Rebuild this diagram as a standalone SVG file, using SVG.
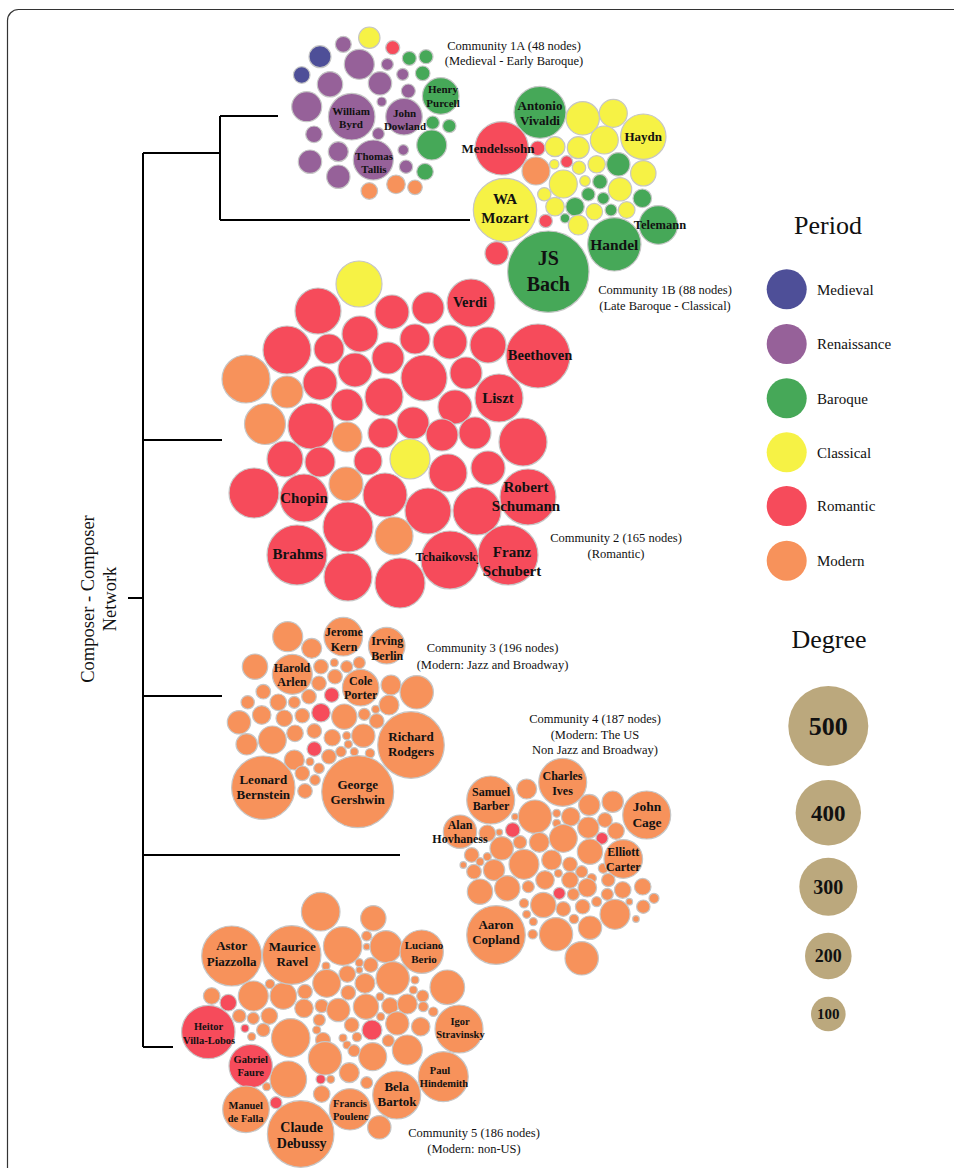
<svg xmlns="http://www.w3.org/2000/svg" width="954" height="1168" viewBox="0 0 954 1168">
<style>
circle{stroke:#c6c6c6;stroke-width:1.2}
.R{fill:#f64b5b}.O{fill:#f7925b}.Y{fill:#f6f245}.G{fill:#46a858}.P{fill:#966199}.B{fill:#4e4f98}
.L circle{stroke:none}
.T{fill:#bba87d;stroke:none}
text{font-family:"Liberation Serif","Times New Roman",serif;fill:#111;text-anchor:middle}
.lb{font-weight:bold}
.cap{font-size:12.5px}
.lg{font-size:15px;text-anchor:start}
.ttl{font-size:26px}
.edge{stroke:#000;stroke-width:2;fill:none}
</style>
<rect x="7.5" y="9.5" width="980" height="1200" rx="11" fill="#fff" stroke="#333" stroke-width="1.2"/>

<g id="connectors">
<path class="edge" d="M128 598H143M143 153V1047M143 153H220M220 116V220M220 116H278M220 220H470M143 440H222M143 696H222M143 855H400M143 1047H173"/>
</g>
<g id="root-label" style="font-size:18.5px">
<text transform="translate(94,599) rotate(-90)">Composer - Composer</text>
<text transform="translate(116,599) rotate(-90)">Network</text>
</g>

<!-- Community 1A -->
<g id="community-1a">
<circle class="Y" cx="369.3" cy="37.7" r="10.7"/>
<circle class="R" cx="392.7" cy="47.7" r="7"/>
<circle class="P" cx="343.3" cy="44.3" r="8"/>
<circle class="B" cx="320" cy="56.7" r="11"/>
<circle class="B" cx="301.7" cy="75" r="8.3"/>
<circle class="P" cx="359.3" cy="64.3" r="15"/>
<circle class="P" cx="387.3" cy="64.3" r="6"/>
<circle class="G" cx="409.3" cy="58.3" r="7"/>
<circle class="G" cx="426" cy="56.7" r="7"/>
<circle class="P" cx="330" cy="84.3" r="12.7"/>
<circle class="P" cx="380" cy="83.3" r="11.7"/>
<circle class="P" cx="402.7" cy="74.3" r="6"/>
<circle class="G" cx="422.7" cy="73.3" r="7.3"/>
<circle class="P" cx="408.3" cy="91" r="7"/>
<circle class="P" cx="306.7" cy="106.7" r="15"/>
<circle class="P" cx="381.7" cy="101.7" r="4.7"/>
<circle class="P" cx="314" cy="134.3" r="8.3"/>
<circle class="P" cx="378.3" cy="133.7" r="6"/>
<circle class="G" cx="432.7" cy="122.7" r="6.7"/>
<circle class="G" cx="449.3" cy="126" r="6.7"/>
<circle class="G" cx="431.7" cy="145" r="15"/>
<circle class="P" cx="338.3" cy="151.7" r="10"/>
<circle class="P" cx="403.3" cy="150" r="5.3"/>
<circle class="P" cx="310" cy="161.7" r="11.7"/>
<circle class="P" cx="406" cy="166.7" r="6.7"/>
<circle class="G" cx="425" cy="171.7" r="8.3"/>
<circle class="P" cx="338.3" cy="176.7" r="11.7"/>
<circle class="O" cx="396" cy="184.3" r="9.3"/>
<circle class="O" cx="369.3" cy="191" r="8.3"/>
<circle class="O" cx="415" cy="187.3" r="7.3"/>
<g id="n-byrd"><circle class="P" cx="351.7" cy="116.7" r="23.3"/><text class="lb" style="font-size:11px"><tspan x="351" y="114.6">William</tspan><tspan x="351" y="127.6">Byrd</tspan></text></g>
<g id="n-dowland"><circle class="P" cx="404" cy="116.7" r="18.3"/><text class="lb" style="font-size:11px"><tspan x="404.5" y="117">John</tspan><tspan x="405" y="129.6">Dowland</tspan></text></g>
<g id="n-purcell"><circle class="G" cx="440.7" cy="96" r="18.3"/><text class="lb" style="font-size:11px"><tspan x="443" y="93">Henry</tspan><tspan x="443" y="107">Purcell</tspan></text></g>
<g id="n-tallis"><circle class="P" cx="373.3" cy="160" r="20"/><text class="lb" style="font-size:11px"><tspan x="374" y="159.6">Thomas</tspan><tspan x="374" y="172.6">Tallis</tspan></text></g>
<text class="cap"><tspan x="514" y="49.5">Community 1A (48 nodes)</tspan><tspan x="514" y="65">(Medieval - Early Baroque)</tspan></text>
</g>

<!-- Community 1B -->
<g id="community-1b">
<circle class="Y" cx="582.7" cy="118.3" r="16.7"/>
<circle class="Y" cx="613.3" cy="113.3" r="14"/>
<circle class="R" cx="537.7" cy="148.3" r="7.3"/>
<circle class="Y" cx="555" cy="146.7" r="10"/>
<circle class="Y" cx="578.3" cy="147.7" r="11"/>
<circle class="Y" cx="604.3" cy="140" r="14"/>
<circle class="Y" cx="554.3" cy="164.3" r="4.7"/>
<circle class="R" cx="566.7" cy="161.7" r="6"/>
<circle class="Y" cx="579" cy="167.7" r="6.7"/>
<circle class="Y" cx="596.7" cy="164.3" r="8.7"/>
<circle class="G" cx="618.3" cy="164.3" r="11.7"/>
<circle class="Y" cx="643.3" cy="173.3" r="12.7"/>
<circle class="O" cx="536" cy="171" r="14"/>
<circle class="Y" cx="563.3" cy="184" r="14"/>
<circle class="Y" cx="585" cy="181" r="5.3"/>
<circle class="G" cx="600" cy="181.7" r="7.3"/>
<circle class="Y" cx="620" cy="189.3" r="11.7"/>
<circle class="Y" cx="544.3" cy="194.3" r="6.7"/>
<circle class="G" cx="588.3" cy="194.3" r="6.7"/>
<circle class="G" cx="603.3" cy="198.3" r="6"/>
<circle class="G" cx="642.3" cy="198.3" r="9.3"/>
<circle class="Y" cx="555" cy="206.7" r="9.3"/>
<circle class="G" cx="575" cy="206.7" r="9.3"/>
<circle class="Y" cx="594.3" cy="211.7" r="8.3"/>
<circle class="G" cx="611" cy="210" r="6"/>
<circle class="Y" cx="626.7" cy="210" r="8.3"/>
<circle class="R" cx="545.7" cy="221" r="6.7"/>
<circle class="G" cx="565" cy="218.3" r="4.7"/>
<circle class="Y" cx="578.3" cy="225" r="10"/>
<circle class="R" cx="496.7" cy="253.3" r="11.7"/>
<g id="n-vivaldi"><circle class="G" cx="540" cy="112.3" r="26"/><text class="lb" style="font-size:13px"><tspan x="540" y="110">Antonio</tspan><tspan x="540" y="124.5">Vivaldi</tspan></text></g>
<g id="n-haydn"><circle class="Y" cx="643.3" cy="136.7" r="22.7"/><text class="lb" style="font-size:13px" x="643.3" y="141">Haydn</text></g>
<g id="n-mendelssohn"><circle class="R" cx="501.7" cy="148.3" r="26.7"/><text class="lb" style="font-size:13px" x="498" y="152.5">Mendelssohn</text></g>
<g id="n-mozart"><circle class="Y" cx="505" cy="210" r="31.7"/><text class="lb" style="font-size:15px"><tspan x="505" y="204">WA</tspan><tspan x="505" y="222.7">Mozart</tspan></text></g>
<g id="n-telemann"><circle class="G" cx="658.3" cy="225" r="19.3"/><text class="lb" style="font-size:12.5px" x="660" y="228.5">Telemann</text></g>
<g id="n-handel"><circle class="G" cx="614.3" cy="244.3" r="26.7"/><text class="lb" style="font-size:15.5px" x="614.3" y="249.5">Handel</text></g>
<g id="n-bach"><circle class="G" cx="548.3" cy="271.7" r="40.7"/><text class="lb" style="font-size:20px"><tspan x="548.3" y="264.5">JS</tspan><tspan x="548.3" y="291">Bach</tspan></text></g>
<text class="cap"><tspan x="665" y="293.5">Community 1B (88 nodes)</tspan><tspan x="665" y="309.5">(Late Baroque - Classical)</tspan></text>
</g>

<!-- Community 2 -->
<g id="community-2">
<circle class="Y" cx="359" cy="284" r="23"/>
<circle class="R" cx="318" cy="311" r="23"/>
<circle class="R" cx="392" cy="312" r="17"/>
<circle class="R" cx="428" cy="308" r="16"/>
<circle class="R" cx="287" cy="350" r="24"/>
<circle class="R" cx="329" cy="349" r="15"/>
<circle class="R" cx="360" cy="334" r="18"/>
<circle class="R" cx="415" cy="339" r="15"/>
<circle class="R" cx="450" cy="342" r="17"/>
<circle class="R" cx="488" cy="345" r="18"/>
<circle class="R" cx="388" cy="358" r="16"/>
<circle class="O" cx="246" cy="379" r="24"/>
<circle class="O" cx="287" cy="392" r="16"/>
<circle class="R" cx="320" cy="383" r="17"/>
<circle class="R" cx="355" cy="370" r="17"/>
<circle class="R" cx="424" cy="378" r="23"/>
<circle class="R" cx="466" cy="373" r="16"/>
<circle class="R" cx="347" cy="405" r="16"/>
<circle class="R" cx="384" cy="397" r="19"/>
<circle class="R" cx="455" cy="407" r="17"/>
<circle class="O" cx="265" cy="424" r="20.5"/>
<circle class="R" cx="311" cy="426" r="23"/>
<circle class="O" cx="347" cy="437" r="15"/>
<circle class="R" cx="383" cy="433" r="15"/>
<circle class="R" cx="413" cy="423" r="16"/>
<circle class="R" cx="442" cy="435" r="16"/>
<circle class="R" cx="475" cy="433" r="16"/>
<circle class="R" cx="523" cy="442" r="24"/>
<circle class="R" cx="285" cy="459" r="18"/>
<circle class="R" cx="320" cy="462" r="15"/>
<circle class="R" cx="368" cy="461" r="14"/>
<circle class="Y" cx="410" cy="459" r="20"/>
<circle class="R" cx="448" cy="473" r="19"/>
<circle class="R" cx="488" cy="468" r="17"/>
<circle class="R" cx="254" cy="493" r="25"/>
<circle class="O" cx="346" cy="484" r="17"/>
<circle class="R" cx="385" cy="495" r="22"/>
<circle class="R" cx="428" cy="511" r="23"/>
<circle class="R" cx="477" cy="511" r="24"/>
<circle class="R" cx="348" cy="527" r="25"/>
<circle class="O" cx="394" cy="536" r="19"/>
<circle class="R" cx="348" cy="577" r="24"/>
<circle class="R" cx="400" cy="583" r="25"/>
<g id="n-verdi"><circle class="R" cx="471" cy="303" r="24"/><text class="lb" style="font-size:14.5px" x="470" y="307">Verdi</text></g>
<g id="n-beethoven"><circle class="R" cx="538" cy="356" r="32"/><text class="lb" style="font-size:14.5px" x="540" y="360">Beethoven</text></g>
<g id="n-liszt"><circle class="R" cx="499" cy="398" r="24"/><text class="lb" style="font-size:15px" x="498" y="403">Liszt</text></g>
<g id="n-chopin"><circle class="R" cx="304" cy="498" r="24"/><text class="lb" style="font-size:15px" x="304" y="503">Chopin</text></g>
<g id="n-schumann"><circle class="R" cx="528" cy="497" r="28"/><text class="lb" style="font-size:15px"><tspan x="526" y="491.5">Robert</tspan><tspan x="526" y="511">Schumann</tspan></text></g>
<g id="n-brahms"><circle class="R" cx="297" cy="555" r="30"/><text class="lb" style="font-size:15px" x="298" y="559">Brahms</text></g>
<g id="n-tchaikovsky"><circle class="R" cx="450" cy="560" r="29"/><text class="lb" style="font-size:12.5px" x="449" y="560.5">Tchaikovsky</text></g>
<g id="n-schubert"><circle class="R" cx="508" cy="555" r="30"/><text class="lb" style="font-size:15px"><tspan x="512" y="557">Franz</tspan><tspan x="512" y="576">Schubert</tspan></text></g>
<text class="cap"><tspan x="616" y="541.8">Community 2 (165 nodes)</tspan><tspan x="616" y="557.8">(Romantic)</tspan></text>
</g>

<!-- Community 3 -->
<g id="community-3">
<circle class="O" cx="287.7" cy="636.7" r="15"/>
<circle class="O" cx="311.7" cy="648.3" r="10"/>
<circle class="O" cx="255" cy="666.7" r="12.7"/>
<circle class="O" cx="321" cy="666.7" r="7.3"/>
<circle class="O" cx="334.3" cy="662.7" r="4"/>
<circle class="O" cx="346.7" cy="666.7" r="6"/>
<circle class="O" cx="359.3" cy="662.7" r="6"/>
<circle class="O" cx="335" cy="676.7" r="7.3"/>
<circle class="O" cx="319" cy="683.3" r="7.3"/>
<circle class="R" cx="331.7" cy="695" r="7.3"/>
<circle class="O" cx="391" cy="685" r="10"/>
<circle class="O" cx="416.7" cy="692.3" r="16.7"/>
<circle class="O" cx="263.3" cy="691.7" r="7.3"/>
<circle class="O" cx="278.3" cy="702.3" r="8.3"/>
<circle class="O" cx="247.7" cy="702.3" r="6.7"/>
<circle class="O" cx="294.3" cy="702.3" r="6"/>
<circle class="O" cx="309" cy="696.7" r="7.3"/>
<circle class="R" cx="321" cy="712.7" r="9.3"/>
<circle class="O" cx="261.7" cy="715" r="9.3"/>
<circle class="O" cx="239" cy="722.3" r="11.7"/>
<circle class="O" cx="284.3" cy="718.3" r="8.3"/>
<circle class="O" cx="302.3" cy="715.7" r="7.3"/>
<circle class="O" cx="344.3" cy="716.7" r="12.7"/>
<circle class="O" cx="364.3" cy="714.3" r="6"/>
<circle class="O" cx="375.7" cy="709.3" r="4"/>
<circle class="O" cx="389" cy="705" r="10"/>
<circle class="O" cx="376.7" cy="721" r="7.3"/>
<circle class="O" cx="272.3" cy="740" r="14"/>
<circle class="O" cx="295" cy="733.3" r="8.3"/>
<circle class="O" cx="314.3" cy="731" r="7.3"/>
<circle class="O" cx="332.3" cy="737.7" r="8.3"/>
<circle class="O" cx="346.7" cy="735.7" r="4"/>
<circle class="O" cx="363.3" cy="735.7" r="11.7"/>
<circle class="O" cx="246.7" cy="744.3" r="10.7"/>
<circle class="O" cx="294.3" cy="760" r="10"/>
<circle class="R" cx="314.3" cy="749" r="7.3"/>
<circle class="O" cx="329" cy="756.7" r="7.3"/>
<circle class="O" cx="341" cy="751.7" r="5.3"/>
<circle class="O" cx="348.3" cy="744.3" r="4"/>
<circle class="O" cx="354.3" cy="751.7" r="4"/>
<circle class="O" cx="370" cy="753.3" r="4.7"/>
<circle class="O" cx="310" cy="761.7" r="4"/>
<circle class="O" cx="319" cy="768.3" r="5.3"/>
<circle class="O" cx="302.3" cy="773.3" r="7.3"/>
<circle class="O" cx="315" cy="780" r="5.3"/>
<circle class="O" cx="305" cy="791" r="7.3"/>
<g id="n-kern"><circle class="O" cx="343.3" cy="636.7" r="19.3"/><text class="lb" style="font-size:12px"><tspan x="344" y="636.3">Jerome</tspan><tspan x="344" y="650.7">Kern</tspan></text></g>
<g id="n-berlin"><circle class="O" cx="386.7" cy="645.7" r="18.3"/><text class="lb" style="font-size:12px"><tspan x="387.3" y="645">Irving</tspan><tspan x="387.3" y="659.7">Berlin</tspan></text></g>
<g id="n-arlen"><circle class="O" cx="292.3" cy="674.3" r="20"/><text class="lb" style="font-size:12px"><tspan x="292" y="671.7">Harold</tspan><tspan x="292" y="685.7">Arlen</tspan></text></g>
<g id="n-porter"><circle class="O" cx="360.7" cy="687.7" r="18.3"/><text class="lb" style="font-size:12px"><tspan x="360.7" y="685">Cole</tspan><tspan x="360.7" y="699">Porter</tspan></text></g>
<g id="n-rodgers"><circle class="O" cx="411" cy="745" r="33.3"/><text class="lb" style="font-size:13px"><tspan x="411" y="741">Richard</tspan><tspan x="411" y="756">Rodgers</tspan></text></g>
<g id="n-bernstein"><circle class="O" cx="263.3" cy="787.7" r="31.7"/><text class="lb" style="font-size:13px"><tspan x="263.3" y="783.6">Leonard</tspan><tspan x="263.3" y="799.3">Bernstein</tspan></text></g>
<g id="n-gershwin"><circle class="O" cx="357.7" cy="791.7" r="36"/><text class="lb" style="font-size:13px"><tspan x="357.7" y="788.6">George</tspan><tspan x="357.7" y="804.3">Gershwin</tspan></text></g>
<text class="cap"><tspan x="492.5" y="652">Community 3 (196 nodes)</tspan><tspan x="492.5" y="668.5">(Modern: Jazz and Broadway)</tspan></text>
</g>

<!-- Community 4 -->
<g id="community-4">
<circle class="O" cx="526.7" cy="789" r="10"/>
<circle class="O" cx="612.7" cy="801.7" r="10.7"/>
<circle class="O" cx="589.3" cy="805" r="10.7"/>
<circle class="O" cx="535" cy="816.7" r="16.7"/>
<circle class="O" cx="556.7" cy="813.3" r="4"/>
<circle class="O" cx="570.7" cy="816.7" r="9.3"/>
<circle class="O" cx="605" cy="820" r="7.3"/>
<circle class="O" cx="556.7" cy="823.3" r="4"/>
<circle class="O" cx="588.3" cy="827.7" r="10.7"/>
<circle class="O" cx="616" cy="831" r="8.3"/>
<circle class="O" cx="487.3" cy="833.3" r="8.3"/>
<circle class="R" cx="512.7" cy="830" r="7.3"/>
<circle class="O" cx="499.3" cy="832.3" r="3.3"/>
<circle class="O" cx="515" cy="816.7" r="3.3"/>
<circle class="R" cx="602" cy="838.3" r="6"/>
<circle class="O" cx="563.3" cy="838.3" r="14"/>
<circle class="O" cx="539.3" cy="842.3" r="10"/>
<circle class="O" cx="520" cy="842.3" r="6.7"/>
<circle class="O" cx="501.7" cy="848.3" r="11.7"/>
<circle class="O" cx="590" cy="851.7" r="12.7"/>
<circle class="O" cx="471.7" cy="855" r="7.3"/>
<circle class="O" cx="480" cy="861.7" r="4"/>
<circle class="O" cx="487.3" cy="856.7" r="4"/>
<circle class="O" cx="524" cy="864.3" r="15"/>
<circle class="O" cx="551.7" cy="860" r="10"/>
<circle class="O" cx="570" cy="864.3" r="7.3"/>
<circle class="O" cx="463.3" cy="865" r="3.3"/>
<circle class="O" cx="474" cy="871.7" r="7.3"/>
<circle class="O" cx="494" cy="870" r="10.7"/>
<circle class="O" cx="581.7" cy="871.7" r="6"/>
<circle class="O" cx="603.3" cy="868.3" r="5"/>
<circle class="O" cx="558.3" cy="873.3" r="4"/>
<circle class="O" cx="545" cy="880" r="9.3"/>
<circle class="O" cx="570" cy="880" r="8.3"/>
<circle class="O" cx="591.7" cy="878.3" r="4.7"/>
<circle class="O" cx="608.3" cy="880" r="6.7"/>
<circle class="R" cx="559.3" cy="893.3" r="6"/>
<circle class="O" cx="528.3" cy="886.7" r="6"/>
<circle class="O" cx="480" cy="891.7" r="12.7"/>
<circle class="O" cx="507.3" cy="888.3" r="12.7"/>
<circle class="O" cx="587.3" cy="887.7" r="9.3"/>
<circle class="O" cx="622.7" cy="890" r="8.3"/>
<circle class="O" cx="642.7" cy="886.7" r="8.3"/>
<circle class="O" cx="573.3" cy="894.3" r="6"/>
<circle class="O" cx="607.3" cy="894.3" r="6"/>
<circle class="O" cx="543.3" cy="905" r="12.7"/>
<circle class="O" cx="563.3" cy="909" r="7.3"/>
<circle class="O" cx="582.7" cy="906.7" r="7.3"/>
<circle class="O" cx="596.7" cy="901.7" r="5"/>
<circle class="O" cx="629.3" cy="901.7" r="3.3"/>
<circle class="O" cx="643.3" cy="906.7" r="6.7"/>
<circle class="O" cx="654" cy="898.3" r="5"/>
<circle class="O" cx="524" cy="903.3" r="4.7"/>
<circle class="O" cx="526.7" cy="914.3" r="4"/>
<circle class="O" cx="615" cy="914.3" r="15"/>
<circle class="O" cx="636" cy="919" r="3.3"/>
<circle class="O" cx="574" cy="919" r="4.7"/>
<circle class="O" cx="590" cy="927.7" r="11.7"/>
<circle class="O" cx="533.3" cy="921.7" r="4"/>
<circle class="O" cx="532.7" cy="934.3" r="4.7"/>
<circle class="O" cx="556" cy="934.3" r="16.7"/>
<circle class="O" cx="581.7" cy="958.3" r="16.7"/>
<g id="n-ives"><circle class="O" cx="562.7" cy="782.3" r="24"/><text class="lb" style="font-size:12px"><tspan x="562.5" y="780">Charles</tspan><tspan x="562.5" y="795">Ives</tspan></text></g>
<g id="n-barber"><circle class="O" cx="490.7" cy="800" r="24"/><text class="lb" style="font-size:12px"><tspan x="491" y="796.3">Samuel</tspan><tspan x="491" y="810">Barber</tspan></text></g>
<g id="n-cage"><circle class="O" cx="646.7" cy="815" r="24"/><text class="lb" style="font-size:13.5px"><tspan x="647" y="811.2">John</tspan><tspan x="647" y="827.2">Cage</tspan></text></g>
<g id="n-hovhaness"><circle class="O" cx="460" cy="831.7" r="16.7"/><text class="lb" style="font-size:12px"><tspan x="460" y="829">Alan</tspan><tspan x="460" y="843.3">Hovhaness</tspan></text></g>
<g id="n-carter"><circle class="O" cx="623.3" cy="859" r="19.3"/><text class="lb" style="font-size:12px"><tspan x="623.3" y="856.3">Elliott</tspan><tspan x="623.3" y="870.7">Carter</tspan></text></g>
<g id="n-copland"><circle class="O" cx="496" cy="935" r="29.3"/><text class="lb" style="font-size:13px"><tspan x="496" y="929.3">Aaron</tspan><tspan x="496" y="944.3">Copland</tspan></text></g>
<text class="cap"><tspan x="595" y="722.5">Community 4 (187 nodes)</tspan><tspan x="595" y="738.5">(Modern: The US</tspan><tspan x="595" y="754.2">Non Jazz and Broadway)</tspan></text>
</g>

<!-- Community 5 -->
<g id="community-5">
<circle class="O" cx="320.7" cy="911.7" r="19.3"/>
<circle class="O" cx="373.3" cy="918.3" r="12.7"/>
<circle class="O" cx="342.7" cy="946" r="19.3"/>
<circle class="O" cx="366.7" cy="936" r="5"/>
<circle class="O" cx="366.7" cy="946.7" r="3.3"/>
<circle class="O" cx="386" cy="946.7" r="16"/>
<circle class="O" cx="326" cy="966" r="4"/>
<circle class="O" cx="359.3" cy="962.7" r="4"/>
<circle class="O" cx="370.7" cy="965" r="7.3"/>
<circle class="O" cx="359.3" cy="970" r="3.3"/>
<circle class="O" cx="347.3" cy="974" r="8.3"/>
<circle class="O" cx="392.7" cy="978.3" r="16.7"/>
<circle class="O" cx="326.7" cy="983.3" r="14"/>
<circle class="O" cx="365" cy="983.3" r="10"/>
<circle class="O" cx="415" cy="980" r="4"/>
<circle class="O" cx="447.3" cy="987.3" r="17.3"/>
<circle class="O" cx="211.7" cy="996" r="8.3"/>
<circle class="R" cx="228.3" cy="1002.7" r="8.3"/>
<circle class="O" cx="253.3" cy="996" r="15"/>
<circle class="O" cx="270" cy="984" r="4.7"/>
<circle class="O" cx="283.3" cy="996" r="13.3"/>
<circle class="O" cx="305" cy="991.7" r="7.3"/>
<circle class="O" cx="348.3" cy="992.7" r="7.3"/>
<circle class="O" cx="366" cy="1006.7" r="12.7"/>
<circle class="O" cx="380" cy="996.7" r="4"/>
<circle class="O" cx="390" cy="1006" r="8.3"/>
<circle class="O" cx="407.3" cy="1004" r="10"/>
<circle class="O" cx="413.3" cy="990" r="4"/>
<circle class="O" cx="422.7" cy="996" r="6"/>
<circle class="O" cx="423.3" cy="1006.7" r="5"/>
<circle class="O" cx="433.3" cy="1011.7" r="4.7"/>
<circle class="O" cx="304" cy="1008.3" r="9.3"/>
<circle class="O" cx="321.7" cy="1006" r="6.7"/>
<circle class="O" cx="338.3" cy="1010" r="11.7"/>
<circle class="O" cx="319.3" cy="1020" r="6"/>
<circle class="O" cx="239.3" cy="1016" r="6.7"/>
<circle class="O" cx="253.3" cy="1018.3" r="6"/>
<circle class="O" cx="269.3" cy="1016" r="8.3"/>
<circle class="R" cx="372" cy="1030" r="10"/>
<circle class="O" cx="351.7" cy="1025" r="7.3"/>
<circle class="O" cx="380.7" cy="1016.7" r="4"/>
<circle class="O" cx="397.3" cy="1023.3" r="11.7"/>
<circle class="O" cx="420.7" cy="1026.7" r="9.3"/>
<circle class="R" cx="245" cy="1028.3" r="4"/>
<circle class="O" cx="263.3" cy="1030" r="6.7"/>
<circle class="O" cx="290.7" cy="1038" r="19.3"/>
<circle class="O" cx="251.7" cy="1036.7" r="4"/>
<circle class="O" cx="316.7" cy="1030" r="4"/>
<circle class="O" cx="323" cy="1040" r="7.5"/>
<circle class="O" cx="343" cy="1038" r="4"/>
<circle class="O" cx="347" cy="1045" r="4"/>
<circle class="O" cx="357" cy="1037" r="4.7"/>
<circle class="O" cx="325" cy="1058.3" r="16.7"/>
<circle class="O" cx="372.7" cy="1056.7" r="14"/>
<circle class="O" cx="354" cy="1050.7" r="6"/>
<circle class="O" cx="388.3" cy="1040.7" r="6"/>
<circle class="O" cx="407.3" cy="1050" r="15"/>
<circle class="O" cx="288.3" cy="1079.3" r="18.3"/>
<circle class="R" cx="320.7" cy="1079.3" r="4.7"/>
<circle class="O" cx="330.7" cy="1079.3" r="4"/>
<circle class="O" cx="349.3" cy="1072.7" r="10"/>
<circle class="O" cx="366.7" cy="1082.7" r="6"/>
<circle class="O" cx="266.7" cy="1086.7" r="4"/>
<circle class="O" cx="321.7" cy="1094" r="8.3"/>
<circle class="R" cx="276" cy="1102.7" r="6"/>
<circle class="O" cx="379.3" cy="1127.3" r="11.7"/>
<g id="n-piazzolla"><circle class="O" cx="231.7" cy="956" r="30"/><text class="lb" style="font-size:13px"><tspan x="231.7" y="950.3">Astor</tspan><tspan x="231.7" y="966">Piazzolla</tspan></text></g>
<g id="n-ravel"><circle class="O" cx="291.7" cy="955" r="29.3"/><text class="lb" style="font-size:13px"><tspan x="292.3" y="951">Maurice</tspan><tspan x="292.3" y="966">Ravel</tspan></text></g>
<g id="n-berio"><circle class="O" cx="421.7" cy="951.7" r="21.7"/><text class="lb" style="font-size:11px"><tspan x="424" y="948.6">Luciano</tspan><tspan x="424" y="962.6">Berio</tspan></text></g>
<g id="n-stravinsky"><circle class="O" cx="459" cy="1029" r="24"/><text class="lb" style="font-size:10.5px"><tspan x="460" y="1024.5">Igor</tspan><tspan x="460.5" y="1037.5">Stravinsky</tspan></text></g>
<g id="n-villa-lobos"><circle class="R" cx="208.3" cy="1032" r="26.7"/><text class="lb" style="font-size:10.5px"><tspan x="208.5" y="1030.2">Heitor</tspan><tspan x="209" y="1043.5">Villa-Lobos</tspan></text></g>
<g id="n-faure"><circle class="R" cx="250.7" cy="1066" r="21.7"/><text class="lb" style="font-size:10.5px"><tspan x="250.7" y="1062.8">Gabriel</tspan><tspan x="250.7" y="1075.8">Faure</tspan></text></g>
<g id="n-hindemith"><circle class="O" cx="443.3" cy="1076.7" r="25"/><text class="lb" style="font-size:10.5px"><tspan x="440" y="1073.5">Paul</tspan><tspan x="444" y="1086.8">Hindemith</tspan></text></g>
<g id="n-bartok"><circle class="O" cx="396.7" cy="1095" r="24"/><text class="lb" style="font-size:13px"><tspan x="396.7" y="1090.5">Bela</tspan><tspan x="397" y="1106.2">Bartok</tspan></text></g>
<g id="n-falla"><circle class="O" cx="246" cy="1109.3" r="23.3"/><text class="lb" style="font-size:10.5px"><tspan x="245.7" y="1109.2">Manuel</tspan><tspan x="245.7" y="1121.8">de Falla</tspan></text></g>
<g id="n-poulenc"><circle class="O" cx="350" cy="1109.3" r="20.7"/><text class="lb" style="font-size:10.5px"><tspan x="350" y="1106.8">Francis</tspan><tspan x="350.7" y="1119.5">Poulenc</tspan></text></g>
<g id="n-debussy"><circle class="O" cx="300.7" cy="1134" r="33.3"/><text class="lb" style="font-size:14px"><tspan x="301.7" y="1131.5">Claude</tspan><tspan x="301.7" y="1148">Debussy</tspan></text></g>
<text class="cap"><tspan x="474" y="1136.5">Community 5 (186 nodes)</tspan><tspan x="474" y="1152.5">(Modern: non-US)</tspan></text>
</g>

<!-- Legend: Period -->
<g id="legend-period" class="L">
<text class="ttl" x="828" y="234">Period</text>
<circle class="B" cx="786.7" cy="289.3" r="20"/><text class="lg" x="817" y="294.5">Medieval</text>
<circle class="P" cx="786.7" cy="344" r="20"/><text class="lg" x="817" y="349">Renaissance</text>
<circle class="G" cx="786.7" cy="398.3" r="20"/><text class="lg" x="817" y="403.5">Baroque</text>
<circle class="Y" cx="786.7" cy="452.3" r="20"/><text class="lg" x="817" y="457.5">Classical</text>
<circle class="R" cx="786.7" cy="506" r="20"/><text class="lg" x="817" y="511">Romantic</text>
<circle class="O" cx="786.7" cy="560.7" r="20"/><text class="lg" x="817" y="565.5">Modern</text>
</g>

<!-- Legend: Degree -->
<g id="legend-degree">
<text class="ttl" x="829" y="648">Degree</text>
<circle class="T" cx="828.3" cy="726" r="40"/><text class="lb" style="font-size:26px" x="828.3" y="735">500</text>
<circle class="T" cx="828.3" cy="812.7" r="32.7"/><text class="lb" style="font-size:23px" x="828.3" y="820.5">400</text>
<circle class="T" cx="828.3" cy="886.7" r="29"/><text class="lb" style="font-size:20px" x="828.3" y="893.5">300</text>
<circle class="T" cx="828.3" cy="956" r="23.3"/><text class="lb" style="font-size:18px" x="828.3" y="962">200</text>
<circle class="T" cx="828.3" cy="1014" r="17.3"/><text class="lb" style="font-size:15px" x="828.3" y="1019">100</text>
</g>
</svg>
